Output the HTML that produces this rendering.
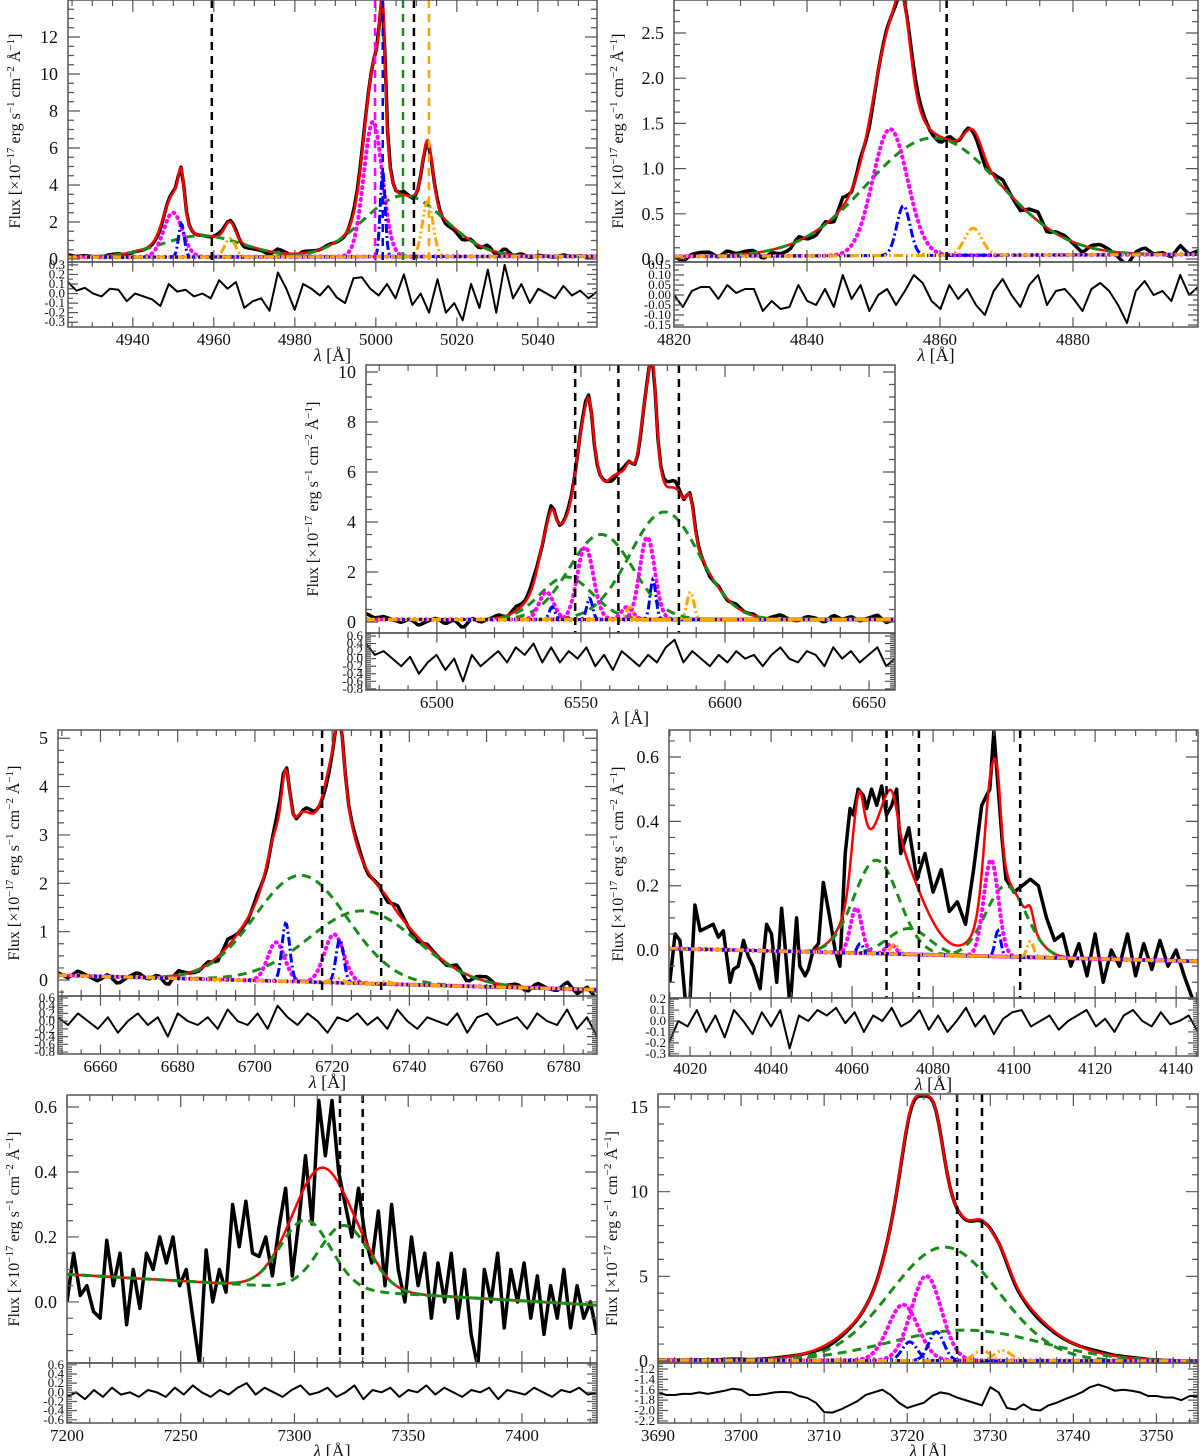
<!DOCTYPE html>
<html>
<head>
<meta charset="utf-8">
<style>
html,body{margin:0;padding:0;background:#fff;}
svg{display:block;font-family:"Liberation Serif","DejaVu Serif",serif;}
</style>
</head>
<body>
<svg id="chart" width="1200" height="1456" viewBox="0 0 1200 1456" xmlns="http://www.w3.org/2000/svg"></svg>
<script>
// ---------------- DATA ----------------
// components: [center, amplitude, sigma]
const p1Green=[[4957,1.15,10],[5007,3.3,10]];
const p1Magenta=[[4949.9,2.4,2.3],[4999.3,7.3,2.3]];
const p1Blue=[[4952,1.8,0.7],[5001.7,4.6,0.6]];
const p1Orange=[[4964,1.0,1.3],[5012.8,3.0,1.3]];
const p1Extra=[[4951.6,0.4,1.2],[5001.2,2.4,1.2],[5012.8,0.5,1]];
const p1Cont=[0.1,0.15];
const p1Lines=[4959.5,5009.4];
const p1ColorLines=[[4999.8,'#ff00ff'],[5001.7,'#0000ff'],[5006.7,'#1a8c1a'],[5013.1,'#ffa500']];
const p1Resid=[0.12,0.03,0.06,0.0,-0.03,0.05,0.04,-0.08,0.0,-0.03,-0.06,-0.13,0.1,0.02,0.04,-0.03,0.0,-0.05,0.14,0.05,0.12,-0.15,-0.08,-0.05,-0.18,0.22,0.05,-0.17,0.1,0.05,-0.02,0.08,-0.04,-0.1,0.16,0.17,0.05,-0.02,0.1,-0.05,0.2,-0.12,0.0,-0.2,0.15,-0.2,-0.1,-0.28,0.1,-0.15,0.25,-0.2,0.3,-0.05,0.1,-0.1,0.05,0.0,-0.05,0.08,-0.02,0.03,-0.05,0.02];
const p1XTicks=[4940,4960,4980,5000,5020,5040];
const p1YTicks=[0,2,4,6,8,10,12];
const p1RTicks=[-0.3,-0.2,-0.1,0.0,0.1,0.2,0.3];

const p2Green=[[4859,1.3,10]];
const p2Magenta=[[4852.5,1.4,2.6]];
const p2Blue=[[4854.5,0.55,1.0]];
const p2Orange=[[4865,0.3,1.3]];
const p2Extra=[[4853.5,0.1,1.5]];
const p2Cont=[0.03,0.05];
const p2Lines=[4861];
const p2Resid=[0.0,-0.06,0.02,0.04,0.04,-0.02,0.05,0.01,0.03,0.03,-0.08,-0.03,-0.07,-0.06,0.05,-0.03,-0.05,0.03,-0.06,0.1,-0.02,0.05,-0.08,0.0,0.03,-0.05,0.02,0.1,0.06,-0.03,-0.07,0.05,-0.02,0.03,-0.05,-0.1,0.02,0.08,0.0,-0.06,0.05,0.1,-0.05,0.02,0.03,-0.02,-0.08,0.03,0.06,0.02,-0.05,-0.14,0.02,0.07,0.0,0.02,-0.03,0.1,0.0,0.04];
const p2XTicks=[4820,4840,4860,4880];
const p2YTicks=[0,0.5,1.0,1.5,2.0,2.5];
const p2RTicks=[-0.15,-0.10,-0.05,0.00,0.05,0.10,0.15];

const p3Green=[[6545,1.7,9],[6557,3.4,11],[6579,4.3,12]];
const p3Magenta=[[6538,1.1,2.5],[6551.5,2.9,2.8],[6566,0.5,2],[6573,3.3,2.6]];
const p3Blue=[[6540,0.5,1],[6553,0.85,1],[6575,1.6,1]];
const p3Orange=[[6567,0.5,1.2],[6588,1.1,1.2]];
const p3Extra=[[6552,0.7,3],[6540,0.6,3.5],[6562,0.8,3],[6574.5,1.3,2],[6584,1.0,3.5]];
const p3Cont=[0.1,0.1];
const p3Lines=[6548,6563,6584];
const p3Resid=[0.4,0.1,0.2,0.0,-0.2,0.05,-0.4,-0.1,0.1,-0.3,0.0,-0.6,0.1,-0.2,0.0,0.2,-0.1,0.3,0.1,0.4,-0.1,0.3,-0.1,0.2,0.0,0.3,-0.2,0.1,-0.3,0.2,0.0,-0.2,0.1,-0.1,0.3,0.5,-0.1,0.2,0.0,-0.2,0.1,-0.1,0.2,0.0,0.1,-0.2,0.1,0.3,0.0,-0.1,0.2,0.1,-0.2,0.3,0.0,0.2,-0.1,0.1,0.3,-0.2,0.0];
const p3XTicks=[6500,6550,6600,6650];
const p3YTicks=[0,2,4,6,8,10];
const p3RTicks=[-0.8,-0.6,-0.4,-0.2,0.0,0.2,0.4,0.6];

const p4Green=[[6712,2.2,12],[6728,1.5,14]];
const p4Magenta=[[6705.5,0.8,2.2],[6720.5,1.0,2.5]];
const p4Blue=[[6708,1.2,1],[6722,0.9,1]];
const p4Orange=[[6721,0.1,1.5],[6734,0.05,1.5]];
const p4Extra=[[6722,0.7,3],[6712,0.5,2.5]];
const p4Cont=[0.1,-0.2];
const p4Lines=[6717.4,6732.7];
const p4Resid=[0.1,-0.1,0.2,0.0,-0.2,0.1,-0.3,0.0,0.2,-0.1,0.1,-0.4,0.2,0.0,-0.1,0.1,-0.2,0.3,0.0,-0.1,0.2,-0.2,0.4,0.1,-0.1,0.2,0.0,-0.3,0.1,0.0,0.2,-0.1,0.1,-0.2,0.3,0.0,-0.2,0.1,0.0,-0.1,0.2,-0.3,0.1,0.2,-0.1,0.0,0.1,-0.2,0.2,0.0,-0.1,0.3,-0.2,0.1,-0.4];
const p4XTicks=[6660,6680,6700,6720,6740,6760,6780];
const p4YTicks=[0,1,2,3,4,5];
const p4RTicks=[-0.8,-0.6,-0.4,-0.2,0.0,0.2,0.4,0.6];

const p5Green=[[4066,0.29,5.5],[4074,0.08,5],[4098,0.22,5]];
const p5Magenta=[[4061,0.14,1.4],[4069.5,0.03,1.2],[4094.3,0.3,1.8]];
const p5Blue=[[4062,0.03,0.7],[4096,0.08,0.7]];
const p5Orange=[[4070.5,0.03,1],[4104,0.05,0.8]];
const p5Extra=[[4062,0.1,1.5],[4069,0.08,2],[4095,0.12,1.5],[4072,0.1,7]];
const p5Cont=[0.005,-0.035];
const p5Lines=[4068.5,4076.5,4101.5];
const p5Wave=[4015.0,4016.3,4017.5,4019.0,4020.0,4021.2,4022.5,4024.1,4025.7,4027.0,4028.2,4029.9,4030.7,4031.9,4033.2,4034.4,4035.6,4037.3,4038.9,4040.1,4041.4,4042.6,4043.4,4044.7,4046.3,4047.1,4048.4,4049.2,4050.4,4051.7,4052.9,4054.5,4055.8,4057.0,4058.3,4059.5,4060.3,4061.5,4062.8,4063.6,4064.8,4066.1,4067.3,4068.5,4069.8,4071.0,4072,4074,4076,4078,4080,4082,4084,4086,4088,4090,4092,4094,4095,4097,4098,4100,4102,4104,4106,4108,4110,4112,4114,4116,4118,4120,4122,4124,4126,4128,4130,4132,4134,4136,4138,4140,4142,4144];
const p5Flux=[-0.1,0.05,0.03,-0.18,-0.15,0.14,0.06,0.07,0.08,0.04,0.06,-0.1,-0.06,-0.05,0.03,-0.02,-0.05,-0.12,0.08,0.05,-0.1,0.13,0.02,-0.18,0.1,-0.05,-0.08,-0.06,0.0,0.02,0.21,0.1,0.0,-0.05,0.3,0.44,0.42,0.5,0.48,0.44,0.5,0.45,0.51,0.42,0.45,0.5,0.3,0.38,0.22,0.3,0.18,0.25,0.12,0.15,0.08,0.25,0.45,0.5,0.68,0.35,0.22,0.18,0.2,0.22,0.2,0.1,0.03,0.05,-0.05,0.02,-0.08,0.05,-0.1,0.0,-0.05,0.05,-0.08,0.02,-0.06,0.03,-0.05,0.0,-0.08,-0.15];
const p5Resid=[-0.2,0.0,-0.05,0.1,-0.1,0.05,-0.15,0.1,0.0,-0.12,0.08,-0.05,0.1,-0.25,0.05,0.0,0.1,0.05,0.12,-0.02,0.08,-0.1,0.05,0.0,0.12,-0.05,0.0,0.1,-0.08,0.05,-0.1,0.0,0.12,-0.05,0.05,-0.12,0.02,0.08,0.1,-0.05,0.0,0.05,-0.08,0.0,0.05,0.1,-0.05,0.02,-0.1,0.05,0.1,0.0,-0.05,0.08,-0.03,0.0,0.05,-0.1];
const p5XTicks=[4020,4040,4060,4080,4100,4120,4140];
const p5YTicks=[0.0,0.2,0.4,0.6];
const p5RTicks=[-0.3,-0.2,-0.1,0.0,0.1,0.2];

const p6Green=[[7305,0.21,11],[7322,0.2,11]];
const p6Magenta=[];
const p6Blue=[];
const p6Orange=[];
const p6Extra=[[7312,0.07,8]];
const p6Cont=[0.085,-0.01];
const p6Lines=[7320,7330];
const p6Flux=[-0.0,0.15,0.02,0.05,-0.03,-0.05,0.19,0.05,0.15,-0.07,0.1,-0.02,0.15,0.1,0.2,0.12,0.2,0.05,0.1,-0.05,-0.19,0.16,0.0,0.1,0.03,0.3,0.17,0.31,0.15,0.14,0.2,0.08,0.23,0.35,0.08,0.25,0.45,0.24,0.62,0.45,0.62,0.4,0.3,0.2,0.35,0.2,0.12,0.28,0.05,0.3,0.1,0.0,0.2,0.05,0.15,-0.05,0.12,0.0,0.15,-0.05,0.1,-0.1,-0.2,0.1,0.0,0.15,-0.08,0.1,0.0,0.12,-0.05,0.08,-0.1,0.05,-0.05,0.1,-0.08,0.05,-0.05,0.0,-0.1];
const p6Resid=[-0.1,0.0,-0.15,0.05,-0.1,0.1,-0.05,0.0,-0.1,0.05,0.0,-0.1,0.1,-0.05,0.15,0.0,-0.1,0.05,-0.05,0.1,0.2,-0.05,0.1,0.0,-0.1,0.05,0.15,-0.05,0.0,0.1,-0.1,0.0,0.15,-0.15,0.05,0.0,0.1,-0.1,0.05,0.0,0.15,-0.05,0.1,0.0,-0.1,0.05,0.0,0.1,-0.15,0.05,0.0,-0.05,0.1,0.0,-0.1,0.05,0.0,0.1,-0.05,0.0];
const p6XTicks=[7200,7250,7300,7350,7400];
const p6YTicks=[0.0,0.2,0.4,0.6];
const p6RTicks=[-0.6,-0.4,-0.2,0.0,0.2,0.4,0.6];

const p7Green=[[3724.5,6.7,6.5],[3727,1.8,9]];
const p7Magenta=[[3719.5,3.3,1.8],[3722.3,5.0,1.8]];
const p7Blue=[[3720.3,1.1,0.9],[3723.5,1.7,0.9]];
const p7Orange=[[3729,0.6,1],[3731.5,0.6,1]];
const p7Extra=[[3721.2,1.3,1.5],[3730,0.8,1.5]];
const p7Cont=[0.05,0.0];
const p7Lines=[3726,3729];
const p7Resid=[-1.65,-1.7,-1.7,-1.68,-1.68,-1.65,-1.68,-1.65,-1.62,-1.58,-1.6,-1.7,-1.7,-1.68,-1.65,-1.64,-1.65,-1.72,-1.76,-1.85,-2.03,-2.04,-1.98,-1.9,-1.82,-1.7,-1.65,-1.6,-1.7,-1.85,-1.95,-1.9,-1.85,-1.72,-1.65,-1.68,-1.75,-1.8,-1.85,-1.9,-1.55,-1.65,-1.95,-1.98,-1.88,-1.98,-2.0,-1.9,-1.85,-1.78,-1.72,-1.65,-1.55,-1.5,-1.55,-1.62,-1.6,-1.62,-1.65,-1.72,-1.72,-1.75,-1.75,-1.8,-1.72,-1.72];
const p7XTicks=[3690,3700,3710,3720,3730,3740,3750];
const p7YTicks=[0,5,10,15];
const p7RTicks=[-2.2,-2.0,-1.8,-1.6,-1.4,-1.2];

// ---------------- LAYOUT CONFIG ----------------
const panels=[
 {name:'panel-oiii',L:68,R:597,T:0,B:262,RB:327,x0:4924,x1:5054.6,y0:-0.16,y1:14.0,r0:-0.35,r1:0.33,
  green:p1Green,magenta:p1Magenta,blue:p1Blue,orange:p1Orange,extra:p1Extra,cont:p1Cont,lines:p1Lines,clines:p1ColorLines,
  resid:p1Resid,k:1,rOff:0,xt:p1XTicks,yt:p1YTicks,rt:p1RTicks,xm:5,ym:0.5,rm:0.05,ydec:0,rdec:1,lx:15},
 {name:'panel-hbeta',L:674,R:1198,T:0,B:262,RB:327,x0:4820,x1:4898.8,y0:-0.033,y1:2.865,r0:-0.16,r1:0.165,
  green:p2Green,magenta:p2Magenta,blue:p2Blue,orange:p2Orange,extra:p2Extra,cont:p2Cont,lines:p2Lines,clines:[],
  resid:p2Resid,k:1,rOff:0,xt:p2XTicks,yt:p2YTicks,rt:p2RTicks,xm:5,ym:0.125,rm:0.025,ydec:1,rdec:2,lx:618},
 {name:'panel-halpha',L:366,R:895,T:365,B:633,RB:690,x0:6475.4,x1:6659,y0:-0.44,y1:10.28,r0:-0.83,r1:0.68,
  green:p3Green,magenta:p3Magenta,blue:p3Blue,orange:p3Orange,extra:p3Extra,cont:p3Cont,lines:p3Lines,clines:[],
  resid:p3Resid,k:0.6,rOff:0,xt:p3XTicks,yt:p3YTicks,rt:p3RTicks,xm:10,ym:0.5,rm:0.05,ydec:0,rdec:1,lx:313},
 {name:'panel-sii',L:58,R:597,T:730,B:996,RB:1054,x0:6649,x1:6788.6,y0:-0.33,y1:5.17,r0:-0.85,r1:0.65,
  green:p4Green,magenta:p4Magenta,blue:p4Blue,orange:p4Orange,extra:p4Extra,cont:p4Cont,lines:p4Lines,clines:[],
  resid:p4Resid,k:0.5,rOff:0,xt:p4XTicks,yt:p4YTicks,rt:p4RTicks,xm:5,ym:0.25,rm:0.05,ydec:0,rdec:1,lx:14},
 {name:'panel-hdelta',L:669,R:1198,T:730,B:998,RB:1056,x0:4014.8,x1:4145.4,y0:-0.149,y1:0.684,r0:-0.32,r1:0.21,
  green:p5Green,magenta:p5Magenta,blue:p5Blue,orange:p5Orange,extra:p5Extra,cont:p5Cont,lines:p5Lines,clines:[],
  resid:p5Resid,wave:p5Wave,flux:p5Flux,xt:p5XTicks,yt:p5YTicks,rt:p5RTicks,xm:5,ym:0.05,rm:0.02,ydec:1,rdec:1,lx:618},
 {name:'panel-oii7320',L:67,R:597,T:1095,B:1363,RB:1423,x0:7200,x1:7433,y0:-0.188,y1:0.637,r0:-0.67,r1:0.64,
  green:p6Green,magenta:p6Magenta,blue:p6Blue,orange:p6Orange,extra:p6Extra,cont:p6Cont,lines:p6Lines,clines:[],
  resid:p6Resid,flux:p6Flux,xt:p6XTicks,yt:p6YTicks,rt:p6RTicks,xm:10,ym:0.05,rm:0.05,ydec:1,rdec:1,lx:14},
 {name:'panel-oii3727',L:658,R:1198,T:1094,B:1363,RB:1423,x0:3690,x1:3755,y0:-0.12,y1:15.77,r0:-2.24,r1:-1.085,
  green:p7Green,magenta:p7Magenta,blue:p7Blue,orange:p7Orange,extra:p7Extra,cont:p7Cont,lines:p7Lines,clines:[],
  resid:p7Resid,k:0.4,rOff:-1.7,xt:p7XTicks,yt:p7YTicks,rt:p7RTicks,xm:2,ym:1,rm:0.05,ydec:0,rdec:1,lx:612}
];

// ---------------- DRAWING ----------------
const NS='http://www.w3.org/2000/svg';
const svg=document.getElementById('chart');
function mk(tag,attrs,parent){const e=document.createElementNS(NS,tag);for(const k in attrs)e.setAttribute(k,attrs[k]);(parent||svg).appendChild(e);return e;}
function gauss(g,x){return g[1]*Math.exp(-(x-g[0])*(x-g[0])/(2*g[2]*g[2]));}
function gsum(list,x){let s=0;for(const g of list)s+=gauss(g,x);return s;}
function ptsToD(pts){return pts.map((p,i)=>(i?'L':'M')+p[0].toFixed(2)+','+p[1].toFixed(2)).join('');}

function drawPanel(p,pi){
  const g=mk('g',{});
  
  
  const xs=l=>p.L+(l-p.x0)/(p.x1-p.x0)*(p.R-p.L);
  const ys=v=>p.T+(p.y1-v)/(p.y1-p.y0)*(p.B-p.T);
  const rs=v=>p.B+(p.r1-v)/(p.r1-p.r0)*(p.RB-p.B);
  const cont=l=>p.cont[0]+(p.cont[1]-p.cont[0])*(l-p.x0)/(p.x1-p.x0);
  const allComps=[].concat(p.green,p.magenta,p.blue,p.orange,p.extra);
  const fit=l=>cont(l)+gsum(allComps,l);
  const interp=(arr,l)=>{const t=(l-p.x0)/(p.x1-p.x0)*(arr.length-1);const i=Math.max(0,Math.min(arr.length-2,Math.floor(t)));const f=t-i;return arr[i]*(1-f)+arr[i+1]*f;};

  const defs=mk('defs',{},g);
  const cp=mk('clipPath',{id:'clipm'+pi},defs);
  mk('rect',{x:p.L,y:p.T,width:p.R-p.L,height:p.B-p.T},cp);
  const cr=mk('clipPath',{id:'clipr'+pi},defs);
  mk('rect',{x:p.L,y:p.B,width:p.R-p.L,height:p.RB-p.B},cr);
  const plot=mk('g',{'clip-path':'url(#clipm'+pi+')'},g);
  
  

  const N=500;
  let dpts=[];
  if(p.flux && p.wave){
    for(let i=0;i<p.flux.length;i++)dpts.push([xs(p.wave[i]),ys(p.flux[i])]);
  } else if(p.flux){
    for(let i=0;i<p.flux.length;i++){const l=p.x0+(p.x1-p.x0)*i/(p.flux.length-1);dpts.push([xs(l),ys(p.flux[i])]);}
  } else {
    const M=p.resid.length*3;
    for(let i=0;i<=M;i++){const l=p.x0+(p.x1-p.x0)*i/M;dpts.push([xs(l),ys(fit(l)+p.k*(interp(p.resid,l)-p.rOff))]);}
  }
  const dp=mk('path',{d:ptsToD(dpts),fill:'none',stroke:'#000','stroke-width':3.5,'stroke-linejoin':'round'},plot);
  
  

  const fpts=[];
  for(let i=0;i<=N;i++){const l=p.x0+(p.x1-p.x0)*i/N;fpts.push([xs(l),ys(fit(l))]);}
  const fp=mk('path',{d:ptsToD(fpts),fill:'none',stroke:'#ff0000','stroke-width':2.5},plot);
  
  

  const styles=[
    [p.green,'#1a8c1a','9,6',3,'broad-component','butt'],
    [p.magenta,'#ff00ff','1,5',4,'narrow-component','round'],
    [p.blue,'#0000ff','9,3,2,3',3,'outflow-component','butt'],
    [p.orange,'#ffa500','9,3,2,3,2,3',3,'secondary-component','butt']
  ];
  for(const st of styles){
    for(const c of st[0]){
      const pts=[];
      for(let i=0;i<=N;i++){const l=p.x0+(p.x1-p.x0)*i/N;pts.push([xs(l),ys(cont(l)+gauss(c,l))]);}
      const cpath=mk('path',{d:ptsToD(pts),fill:'none',stroke:st[1],'stroke-width':st[3],'stroke-dasharray':st[2],'stroke-linecap':st[5]},plot);
      
      
    }
  }
  for(const cl of p.clines){
    const vl=mk('line',{x1:xs(cl[0]),x2:xs(cl[0]),y1:p.T,y2:p.B,stroke:cl[1],'stroke-width':2.5,'stroke-dasharray':'8,6'},plot);
    
    
  }
  for(const l of p.lines){
    const vl=mk('line',{x1:xs(l),x2:xs(l),y1:p.T,y2:p.B,stroke:'#000','stroke-width':2.5,'stroke-dasharray':'8,6'},plot);
    
    
  }

  const rplot=mk('g',{'clip-path':'url(#clipr'+pi+')'},g);
  
  
  const rpts=p.resid.map((v,i)=>[xs(p.x0+(p.x1-p.x0)*i/(p.resid.length-1)),rs(v)]);
  const rp=mk('path',{d:ptsToD(rpts),fill:'none',stroke:'#000','stroke-width':2,'stroke-linejoin':'round'},rplot);
  
  

  const fr=mk('rect',{x:p.L,y:p.T,width:p.R-p.L,height:p.B-p.T,fill:'none',stroke:'#555','stroke-width':1.5},g);
  
  
  const fr2=mk('rect',{x:p.L,y:p.B,width:p.R-p.L,height:p.RB-p.B,fill:'none',stroke:'#555','stroke-width':1.5},g);
  
  

  let td='';
  const xstart=Math.ceil(p.x0/p.xm)*p.xm;
  for(let v=xstart;v<=p.x1+1e-6;v+=p.xm){
    const X=xs(v);const major=p.xt.some(t=>Math.abs(t-v)<1e-6);const len=major?12:6;
    td+=`M${X},${p.T}v${len}M${X},${p.B}v${-len}M${X},${p.B}v${len*0.8}M${X},${p.RB}v${-len*0.8}`;
  }
  const ystart=Math.ceil(p.y0/p.ym)*p.ym;
  for(let v=ystart;v<=p.y1+1e-9;v+=p.ym){
    const Y=ys(v);const major=p.yt.some(t=>Math.abs(t-v)<1e-6);const len=major?12:6;
    td+=`M${p.L},${Y}h${len}M${p.R},${Y}h${-len}`;
  }
  const rstart=Math.ceil(p.r0/p.rm)*p.rm;
  for(let v=rstart;v<=p.r1+1e-9;v+=p.rm){
    const Y=rs(v);const major=p.rt.some(t=>Math.abs(t-v)<1e-6);const len=major?10:5;
    td+=`M${p.L},${Y}h${len}M${p.R},${Y}h${-len}`;
  }
  const tk=mk('path',{d:td,stroke:'#555','stroke-width':1.2,fill:'none'},g);
  
  

  for(const v of p.xt){
    const t=mk('text',{x:xs(v),y:p.RB+18,'text-anchor':'middle','font-size':17,fill:'#111'},g);
    
    
    t.textContent=String(v);
  }
  for(const v of p.yt){
    const t=mk('text',{x:p.L-10,y:ys(v)+6,'text-anchor':'end','font-size':18,fill:'#111'},g);
    
    
    t.textContent=v.toFixed(p.ydec);
  }
  for(const v of p.rt){
    const t=mk('text',{x:p.L-3,y:rs(v)+4,'text-anchor':'end','font-size':13,fill:'#111'},g);
    
    
    t.textContent=(Math.abs(v)<1e-9?0:v).toFixed(p.rdec);
  }
  const xt=mk('text',{x:(p.L+p.R)/2,y:p.RB+34,'text-anchor':'middle','font-size':18,fill:'#111'},g);
  
  
  const t1=mk('tspan',{'font-style':'italic'},xt);t1.textContent='λ';
  const t2=mk('tspan',{},xt);t2.textContent=' [Å]';

  const cy=(p.T+p.B)/2;
  const yt=mk('text',{x:0,y:0,'text-anchor':'middle','font-size':16,fill:'#111',transform:`translate(${p.lx+5},${cy}) rotate(-90)`},g);
  
  
  const parts=[['Flux [×10',0],['−17',1],[' erg s',0],['−1',1],[' cm',0],['−2',1],[' Å',0],['−1',1],[']',0]];
  for(const pt of parts){
    const s=mk('tspan',pt[1]?{'font-size':11,'baseline-shift':'6'}:{},yt);
    s.textContent=pt[0];
  }
}
panels.forEach(drawPanel);
</script>
</body>
</html>
